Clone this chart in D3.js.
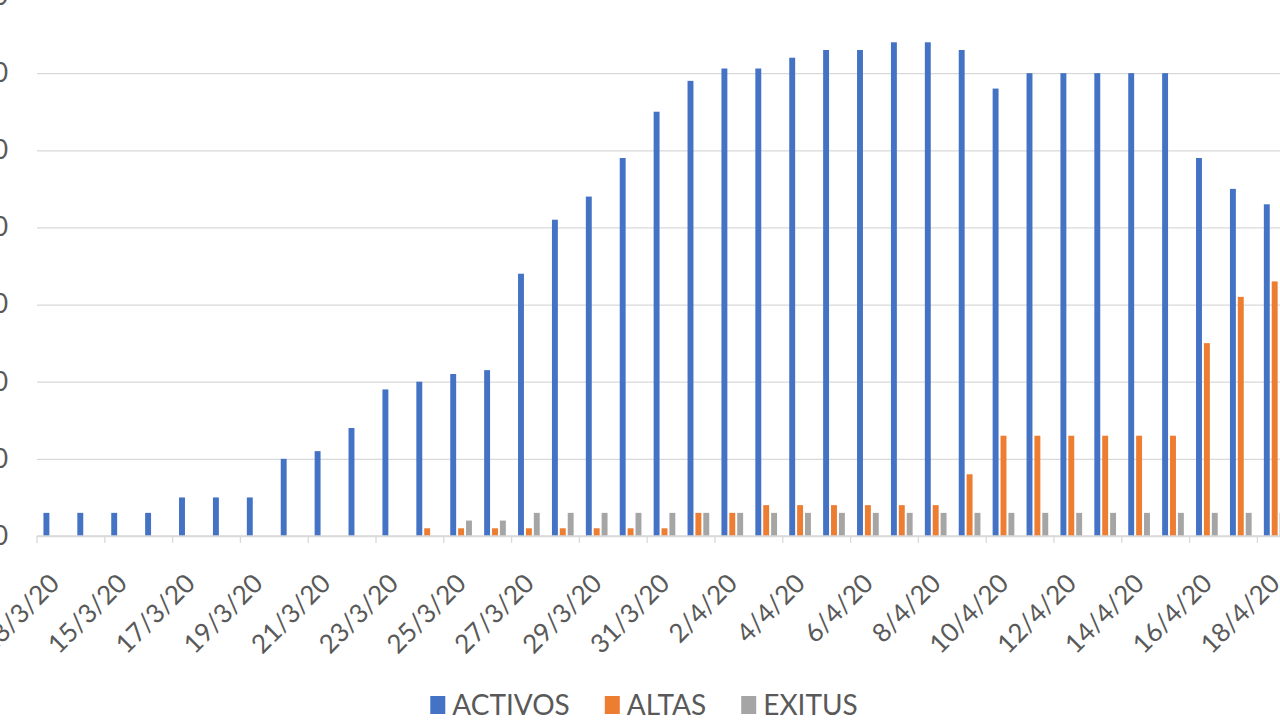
<!DOCTYPE html>
<html>
<head>
<meta charset="utf-8">
<script src="https://cdn.jsdelivr.net/npm/d3@7"></script>
<style>
  body { margin: 0; background: #fff; overflow: hidden; }
  svg { display: block; font-family: Lato, "Open Sans", sans-serif; }
</style>
</head>
<body>
<svg id="chart"></svg>
<script>
const W = 1280, H = 720

// days shown on the category axis (13/3/20 .. 18/4/20)
const dates = ["13/3/20","14/3/20","15/3/20","16/3/20","17/3/20","18/3/20","19/3/20","20/3/20",
  "21/3/20","22/3/20","23/3/20","24/3/20","25/3/20","26/3/20","27/3/20","28/3/20","29/3/20",
  "30/3/20","31/3/20","1/4/20","2/4/20","3/4/20","4/4/20","5/4/20","6/4/20","7/4/20","8/4/20",
  "9/4/20","10/4/20","11/4/20","12/4/20","13/4/20","14/4/20","15/4/20","16/4/20","17/4/20","18/4/20"]

const activos = [3,3,3,3,5,5,5,10,11,14,19,20,21,21.5,34,41,44,49,55,59,60.6,60.6,62,63,63,64,64,
  63,58,60,60,60,60,60,49,45,43]
const altas = [0,0,0,0,0,0,0,0,0,0,0,1,1,1,1,1,1,1,1,3,3,4,4,4,4,4,4,8,13,13,13,13,13,13,25,31,33]
const exitus = [0,0,0,0,0,0,0,0,0,0,0,0,2,2,3,3,3,3,3,3,3,3,3,3,3,3,3,3,3,3,3,3,3,3,3,3,3]

const seriesNames = ["ACTIVOS", "ALTAS", "EXITUS"]
const seriesColors = ["#4472C4", "#ED7D31", "#A5A5A5"]
const yTicks = [0, 10, 20, 30, 40, 50, 60, 70]

const margin = { left: 37, top: -4, bottom: 184 }
const step = 33.9
const baseY = H - margin.bottom

const svg = d3.select("#chart").attr("width", W).attr("height", H)

const data = dates.map(function(d, i) {
  return { date: d, values: [activos[i], altas[i], exitus[i]] }
})

const x0 = d3.scaleBand()
  .domain(dates)
  .range([margin.left, margin.left + dates.length * step])
  .padding(0)

const x1 = d3.scaleBand()
  .domain(seriesNames)
  .range([step * 0.19, step * 0.83])
  .paddingInner(0.25)

const y = d3.scaleLinear()
  .domain([0, 70])
  .range([baseY, margin.top])

// gridlines + y labels (labels mostly cut by the left edge, as in the source)
const yAxis = svg.append("g")
  .attr("transform", "translate(" + margin.left + ",0)")
  .call(d3.axisLeft(y).tickValues(yTicks).tickSize(-(W - margin.left)).tickPadding(29))
yAxis.select(".domain").remove()
yAxis.selectAll(".tick line").attr("stroke", "#d9d9d9").attr("stroke-width", 1.3)
yAxis.selectAll(".tick text")
  .attr("fill", "#595959")
  .attr("font-size", "26px")
  .attr("font-family", "Lato, sans-serif")

// bars
const groups = svg.append("g").selectAll("g")
  .data(data)
  .enter().append("g")
  .attr("transform", d => "translate(" + x0(d.date) + ",0)")

groups.selectAll("rect")
  .data(d => d.values.map((v, k) => ({ name: seriesNames[k], value: v, k: k })))
  .enter().append("rect")
  .attr("x", d => x1(d.name))
  .attr("width", x1.bandwidth())
  .attr("y", d => y(d.value))
  .attr("height", d => baseY - y(d.value))
  .attr("fill", d => seriesColors[d.k])

// category axis: baseline, ticks every 2 days, rotated labels
svg.append("line")
  .attr("x1", margin.left).attr("x2", W)
  .attr("y1", baseY).attr("y2", baseY)
  .attr("stroke", "#d9d9d9").attr("stroke-width", 1.3)

const every2 = dates.filter((d, i) => i % 2 == 0)

svg.append("g").selectAll("line")
  .data(every2)
  .enter().append("line")
  .attr("x1", d => x0(d)).attr("x2", d => x0(d))
  .attr("y1", baseY).attr("y2", baseY + 7)
  .attr("stroke", "#d9d9d9").attr("stroke-width", 1.3)

svg.append("g").selectAll("text")
  .data(every2)
  .enter().append("text")
  .attr("transform", d => "translate(" + (x0(d) + x0.bandwidth() / 2 + 7) + "," + (baseY + 49) + ") rotate(-45)")
  .attr("text-anchor", "end")
  .attr("font-size", "26px")
  .attr("fill", "#595959")
  .text(d => d)

// legend
const legend = svg.append("g").attr("transform", "translate(0," + 705 + ")")
const items = legend.selectAll("g")
  .data(seriesNames)
  .enter().append("g")

items.append("rect")
  .attr("y", -9)
  .attr("width", 15)
  .attr("height", 18)
  .attr("fill", (d, i) => seriesColors[i])

items.append("text")
  .attr("x", 22)
  .attr("y", 10)
  .attr("font-size", "28px")
  .attr("fill", "#595959")
  .text(d => d)

let offset = 0
const widths = []
items.each(function() {
  widths.push(22 + this.querySelector("text").getComputedTextLength())
})
const gap = 35
const total = d3.sum(widths) + gap * (widths.length - 1)
let start = 644 - total / 2
items.attr("transform", function(d, i) {
  const t = "translate(" + (start + offset) + ",0)"
  offset += widths[i] + gap
  return t
})
</script>
</body>
</html>
